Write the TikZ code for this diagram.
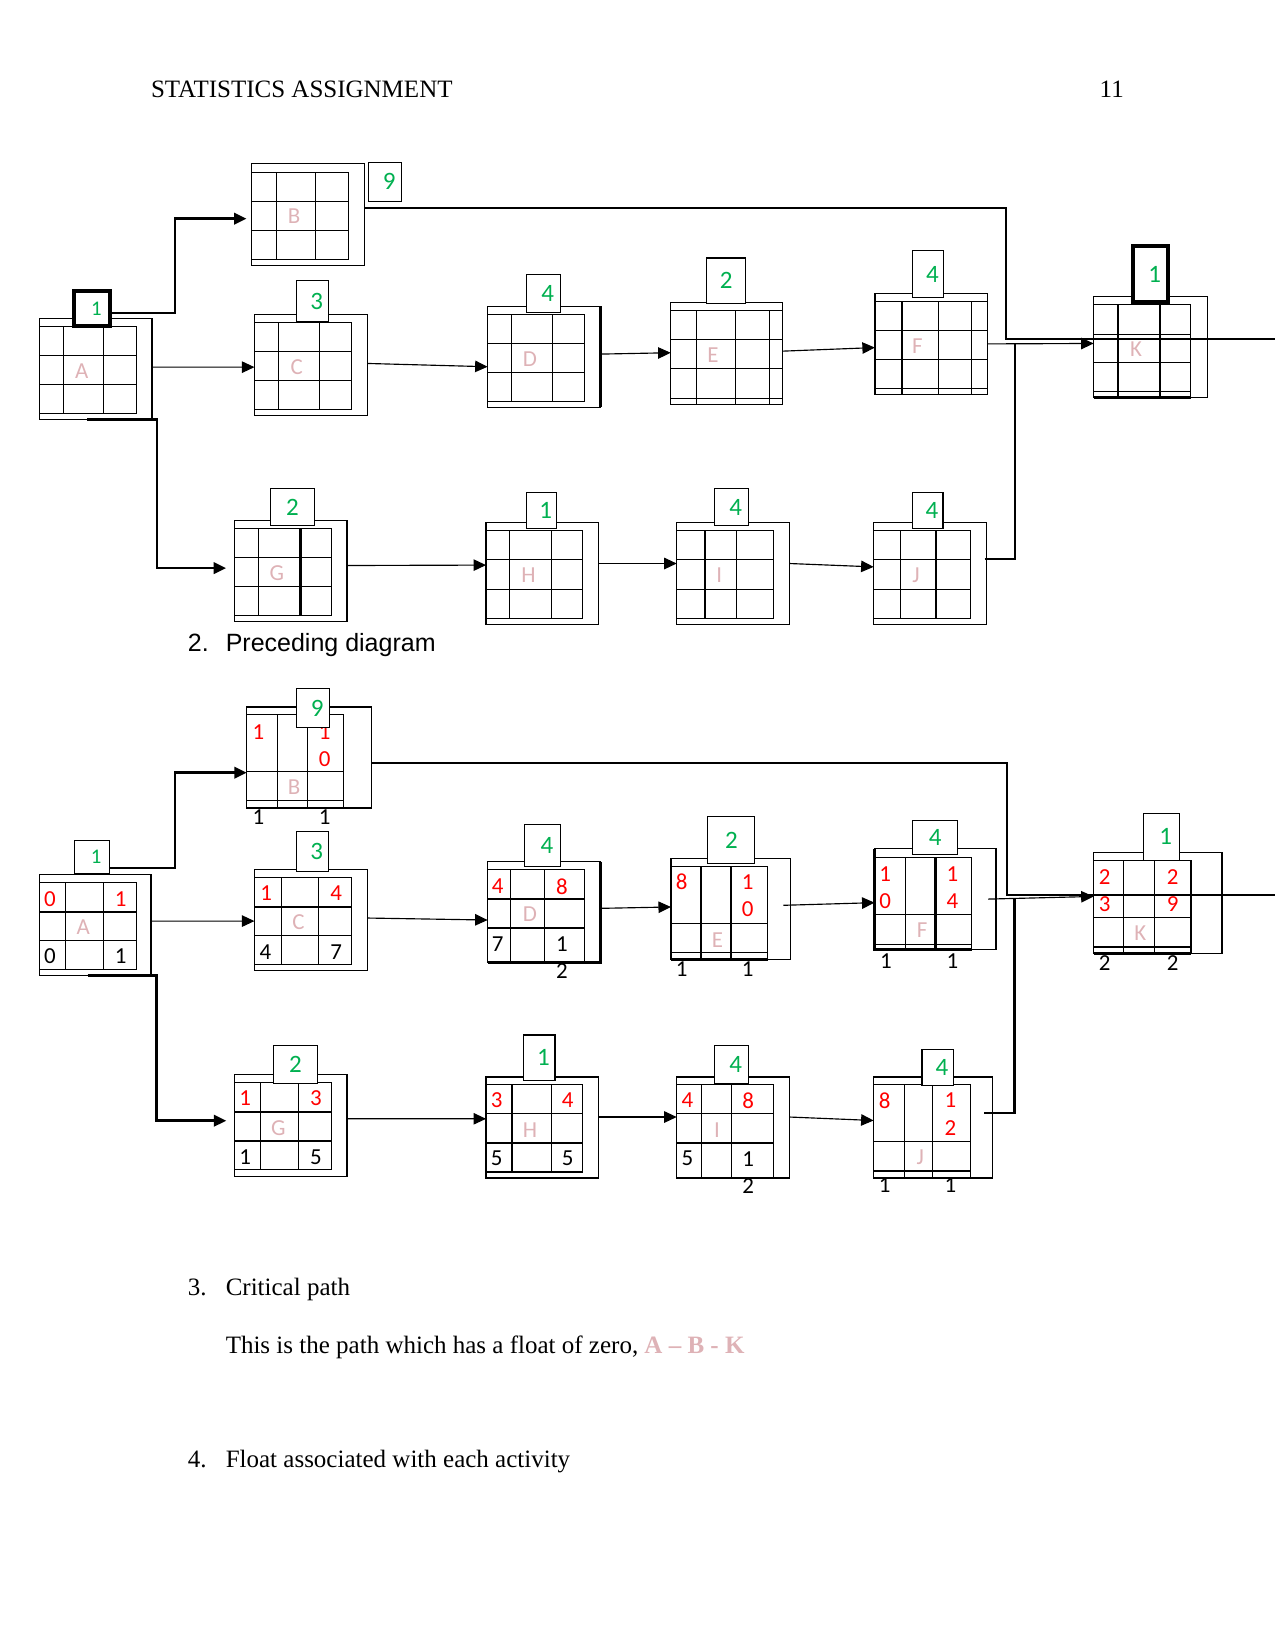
\documentclass[tikz,border=0pt]{standalone}
\usepackage{fontspec}
\setmainfont{Liberation Serif}
\newfontfamily\arialfont{Liberation Sans}
\newfontfamily\calfont{Carlito}
\usetikzlibrary{arrows.meta}
\definecolor{durgreen}{RGB}{0,176,80}
\definecolor{numred}{RGB}{255,0,0}
\definecolor{actpink}{RGB}{222,178,182}
\newlength{\px}\setlength{\px}{0.505pt}

% grid inside an activity box: box, grid width, top, bottom, row lines, column lines
\newcommand{\actgrid}[6]{%
  \begin{scope}[shift={(#1.north west)}]
    \draw (0,#3) rectangle (#2,#4);
    \foreach \ry in {#5} \draw (0,\ry) -- (#2,\ry);
    \foreach \cx in {#6} \draw (\cx,#3) -- (\cx,#4);
  \end{scope}}
% number in a cell: style, name, box, offset, text
\newcommand{\numat}[5]{\node[#1] (#2) at ([shift={(#4)}]#3.north west) {#5};}

\begin{document}
\begin{tikzpicture}[
    x=0.505pt, y=-0.505pt, line width=0.55pt,
    >={Triangle[length=6pt,width=5.5pt]},
    abox/.style={draw, rectangle, inner sep=0pt, outer sep=0pt, anchor=north west,
                 minimum width=107\px, minimum height=96\px},
    mdbox/.style={draw, rectangle, fill=white, inner sep=0pt, outer sep=0pt, text=durgreen,
                 font=\calfont\fontsize{12}{14}\selectfont},
    dbox/.style={mdbox, execute at begin node=\hspace{4pt}},
    cdbox/.style={dbox, line width=1.9pt},
    small/.style={font=\calfont\fontsize{10}{12}\selectfont},
    lbl/.style={text=actpink, inner sep=0pt, font=\calfont\fontsize{11}{13}\selectfont},
    esnum/.style={text=numred, inner sep=0pt, align=center, font=\calfont\fontsize{11}{13}\selectfont},
    lsnum/.style={esnum, text=black},
    heavy/.style={line width=1.3pt},
    flow/.style={->},
    crit/.style={->, line width=1.2pt},
    title/.style={anchor=base west, inner sep=0pt, font=\fontsize{12}{14}\selectfont},
  ]
  \useasboundingbox (0,0) rectangle (1212,1568);

  \node[title] (hdr) at (143,93) {STATISTICS ASSIGNMENT};
  \node[title, anchor=base east] (pg) at (1068.5,93) {11};

  % preceding diagram
  \node[abox] (A1) at (37.4,302.6) {};
  \node[abox, minimum height=97\px] (B1) at (239.2,155.3) {};
  \node[abox, minimum width=107.7\px] (C1) at (241.8,298.8) {};
  \node[abox] (D1) at (463.4,291.2) {};
  \node[abox, minimum width=106.2\px, minimum height=97\px] (E1) at (637.3,287.4) {};
  \node[abox] (F1) at (831.4,278.8) {};
  \node[abox, minimum width=107.8\px] (K1) at (1039.3,282) {};
  \node[abox] (G1) at (222.8,494.9) {};
  \node[abox, minimum height=97\px] (H1) at (461.9,496.5) {};
  \node[abox, minimum height=97\px] (I1) at (643.1,496.5) {};
  \node[abox, minimum height=97\px] (J1) at (830.2,496.5) {};

  \actgrid{A1}{92.5}{7.9}{90.3}{35.5,62.7}{22.8,60.8}
  \actgrid{B1}{91.9}{8.6}{91.3}{36.4,63.7}{23.8,60.8}
  \actgrid{C1}{92.5}{7.6}{90.3}{35.5,62.7}{22.8,61.8}
  \actgrid{D1}{92}{7.6}{90.3}{35.2,62.7}{22.7,61.8}
  \actgrid{E1}{106.2}{7.6}{97}{35.2,62.7,91.3}{24.8,61.8,94}
  \actgrid{F1}{107}{7.6}{96}{35.2,62.7,90.3}{25.8,60.4,91.6}
  \actgrid{K1}{92.3}{7.3}{96}{35.5,62.7,90.3}{23.1,63.1}
  \actgrid{G1}{92.4}{7.6}{90.3}{35.2,62.8}{23,62.7}
  \actgrid{H1}{92}{7.6}{91.3}{35.5,63.7}{22.5,62.5}
  \actgrid{I1}{92}{7.6}{91.3}{35.2,63.4}{26.9,57}
  \actgrid{J1}{92.2}{7.6}{91}{35.2,63.4}{25.7,59.3}

  \draw[heavy] (D1.north east) -- (D1.south east);
  \draw[heavy] (F1.north west) -- (F1.south west);
  \draw[heavy] ([shift={(62.7,7.6)}]G1.north west) -- ++(0,82.7);
  \draw[heavy] (H1.north west) -- (H1.south west);
  \draw[heavy] (K1.south west) -- ++(92.3,0);

  \foreach \b in {A,B,C,D,E,F,G,H,I,J,K}
    \node[lbl] (l\b1) at ([shift={(40.3,50)}]\b1.north west) {\b};

  \node[cdbox, small, text=durgreen, minimum width=34\px, minimum height=33.3\px] (dA1) at (87.6,293.3) {1};
  \node[dbox, minimum width=31.7\px, minimum height=37\px] (dB1) at (366,172.8) {9};
  \node[dbox, minimum width=30\px, minimum height=39.4\px] (dC1) at (297,286.1) {3};
  \node[dbox, minimum width=32.2\px, minimum height=36.1\px] (dD1) at (516.5,278.9) {4};
  \node[mdbox, minimum width=37\px, minimum height=42.9\px] (dE1) at (690.1,266.6) {2};
  \node[dbox, minimum width=29.5\px, minimum height=44.5\px] (dF1) at (882.2,260.4) {4};
  \node[cdbox, minimum width=32.7\px, minimum height=53.3\px] (dK1) at (1093.4,260.7) {1};
  \node[mdbox, minimum width=41.9\px, minimum height=35.2\px] (dG1) at (278,481.8) {2};
  \node[dbox, minimum width=28.4\px, minimum height=34.2\px] (dH1) at (514.6,485.1) {1};
  \node[dbox, minimum width=32.3\px, minimum height=35.2\px] (dI1) at (695.3,481.8) {4};
  \node[dbox, minimum width=28.9\px, minimum height=34.2\px] (dJ1) at (881.7,485.1) {4};

  \coordinate (out1) at (1212,322.5);
  \draw[crit, shorten >=2.5pt] ([shift={(0,4)}]dA1.east) -- ++(61.7,0) |- ([shift={(0,4)}]B1.west);
  \draw[flow] ([shift={(0,-1.7)}]A1.east) -- ([shift={(0,2.1)}]C1.west);
  \draw[flow] ([shift={(0,-1.4)}]C1.east) -- ([shift={(0,9.3)}]D1.west);
  \draw[flow] ([shift={(0,-2.7)}]D1.east) -- ([shift={(0,-0.7)}]E1.west);
  \draw[flow] ([shift={(0,-2.2)}]E1.east) -- ([shift={(0,3.5)}]F1.west);
  \draw[flow] (F1.east) -- ([shift={(0,-3.6)}]K1.west);
  \draw[line width=0.9pt] ([shift={(0,-5.8)}]B1.east) -- ++(609.7,0) |- (out1);
  \draw[crit, shorten >=4pt] ([shift={(-8.1,0)}]A1.south) -- ++(66.6,0) |- ([shift={(0,-3)}]G1.west);
  \draw[flow] ([shift={(0,-5.5)}]G1.east) -- ([shift={(0,-8)}]H1.west);
  \draw[flow] ([shift={(0,-9.5)}]H1.east) -- ([shift={(0,-9.5)}]I1.west);
  \draw[flow] ([shift={(0,-9.5)}]I1.east) -- ([shift={(0,-6.3)}]J1.west);
  \draw[line width=1.2pt] ([shift={(-1.6,-13.9)}]J1.east) -- ++(28.8,0) -- ++(0,-204.8);

  \node[title, font=\arialfont\fontsize{12}{14}\selectfont] (n2) at (178,619) {2.};
  \node[title, font=\arialfont\fontsize{12}{14}\selectfont] (s2) at (214,619) {Preceding diagram};

  % network with times
  \node[abox, minimum width=106.1\px] (A2) at (37.4,831.1) {};
  \node[abox, minimum width=118.2\px] (B2) at (234.5,671.8) {};
  \node[abox, minimum width=107.4\px] (C2) at (241.8,826.4) {};
  \node[abox] (D2) at (463.4,818.8) {};
  \node[abox, minimum width=113.7\px] (E2) at (637.6,815.9) {};
  \node[abox, minimum width=115.4\px] (F2) at (831.1,806.4) {};
  \node[abox, minimum width=122\px] (K2) at (1039.3,810.2) {};
  \node[abox, minimum height=97\px] (G2) at (222.8,1021.2) {};
  \node[abox] (H2) at (461.9,1023.5) {};
  \node[abox] (I2) at (643.1,1023.5) {};
  \node[abox, minimum width=113\px] (J2) at (830.2,1023.5) {};

  \actgrid{A2}{92.6}{7.6}{90.3}{35.5,63}{25,60.8}
  \actgrid{B2}{91.9}{7.2}{96}{61.1,88.7}{29.1,58}
  \actgrid{C2}{92.2}{7.6}{90.3}{35.5,63}{26,61.1}
  \actgrid{D2}{92}{7.6}{96}{35.5,63.1}{22.1,54.3}
  \actgrid{E2}{92}{7.3}{96}{61.8,89.4}{28.5,57}
  \actgrid{F2}{92.3}{8.6}{96}{62.7,91}{29.5,57.7}
  \actgrid{K2}{92.5}{7.6}{96}{61.8,89.7}{28.5,58}
  \actgrid{G2}{92.4}{7.6}{90.3}{35.5,63.1}{24.7,61.1}
  \actgrid{H2}{92}{7.3}{90.3}{34.9,62.7}{24.7,62.2}
  \actgrid{I2}{92}{7.3}{96}{34.9,62.7}{23.6,51.7}
  \actgrid{J2}{92.2}{7.2}{95.6}{61.1,89.3}{29.4,56}

  \draw[heavy] (D2.north east) -- (D2.south east) -- (D2.south west);
  \draw[heavy] (E2.south west) -- ++(92,0);
  \draw[heavy] (F2.north west) -- (F2.south west) -- ++(92.3,0);
  \draw[heavy] ([shift={(57.7,8.6)}]F2.north west) -- ++(0,87.4);
  \draw[heavy] (I2.south west) -- ++(92,0);
  \draw[heavy] (J2.south west) -- ++(92.2,0);
  \draw[heavy] (K2.south west) -- ++(92.5,0);

  \foreach \b/\lx/\ly in {A/41.8/50.4, B/45/76, C/41.8/49.7, D/40.1/50, E/44.1/77.6, F/45.1/77.6,
                          G/41.8/50.4, H/41.8/50.7, I/38.2/50.7, J/44.4/76, K/44.4/76.4}
    \node[lbl] (l\b2) at ([shift={(\lx,\ly)}]\b2.north west) {\b};

  \numat{esnum}{A2es}{A2}{10.1,23.4}{0}  \numat{esnum}{A2ef}{A2}{77.3,23.4}{1}
  \numat{lsnum}{A2ls}{A2}{10.1,77.6}{0}  \numat{lsnum}{A2lf}{A2}{77.3,77.6}{1}
  \numat{esnum}{B2es}{B2}{11.1,24.4}{1}  \numat{esnum}{B2ef}{B2}{74.1,36.8}{1\\0}
  \numat{lsnum}{B2ls}{B2}{11.1,104.6}{1} \numat{lsnum}{B2lf}{B2}{74.1,104.6}{1}
  \numat{esnum}{C2es}{C2}{11.1,22.8}{1}  \numat{esnum}{C2ef}{C2}{77.6,22.8}{4}
  \numat{lsnum}{C2ls}{C2}{10.5,78.3}{4}  \numat{lsnum}{C2lf}{C2}{77.6,78.3}{7}
  \numat{esnum}{D2es}{D2}{9.5,23.5}{4}   \numat{esnum}{D2ef}{D2}{70.6,23.5}{8}
  \numat{lsnum}{D2ls}{D2}{9.5,78}{7}     \numat{lsnum}{D2lf}{D2}{70.6,91.4}{1\\2}
  \numat{esnum}{E2es}{E2}{10.2,22.2}{8}  \numat{esnum}{E2ef}{E2}{73,35.4}{1\\0}
  \numat{lsnum}{E2ls}{E2}{10.2,104.6}{1} \numat{lsnum}{E2lf}{E2}{73,104.6}{1}
  \numat{esnum}{F2es}{F2}{10.2,36.8}{1\\0} \numat{esnum}{F2ef}{F2}{74,36.8}{1\\4}
  \numat{lsnum}{F2ls}{F2}{10.9,106.8}{1} \numat{lsnum}{F2lf}{F2}{74,106.8}{1}
  \numat{esnum}{K2es}{K2}{10.5,36.1}{2\\3} \numat{esnum}{K2ef}{K2}{75.1,36.1}{2\\9}
  \numat{lsnum}{K2ls}{K2}{10.5,104.9}{2} \numat{lsnum}{K2lf}{K2}{75.1,104.9}{2}
  \numat{esnum}{G2es}{G2}{10.2,22.8}{1}  \numat{esnum}{G2ef}{G2}{77.5,22.8}{3}
  \numat{lsnum}{G2ls}{G2}{10.2,78.3}{1}  \numat{lsnum}{G2lf}{G2}{77.5,78.3}{5}
  \numat{esnum}{H2es}{H2}{10.2,22.2}{3}  \numat{esnum}{H2ef}{H2}{77.5,22.2}{4}
  \numat{lsnum}{H2ls}{H2}{10.2,77.6}{5}  \numat{lsnum}{H2lf}{H2}{77.5,77.6}{5}
  \numat{esnum}{I2es}{I2}{10.2,22.2}{4}  \numat{esnum}{I2ef}{I2}{68,22.2}{8}
  \numat{lsnum}{I2ls}{I2}{10.2,77.6}{5}  \numat{lsnum}{I2lf}{I2}{68,91.1}{1\\2}
  \numat{esnum}{J2es}{J2}{10.5,22.2}{8}  \numat{esnum}{J2ef}{J2}{72.9,35.2}{1\\2}
  \numat{lsnum}{J2ls}{J2}{10.5,103}{1}   \numat{lsnum}{J2lf}{J2}{72.9,103}{1}

  \node[dbox, small, text=durgreen, minimum width=33.3\px, minimum height=31.4\px] (dA2) at (87.3,814.5) {1};
  \node[dbox, minimum width=30.7\px, minimum height=37.1\px] (dB2) at (297.4,672.9) {9};
  \node[dbox, minimum width=30.1\px, minimum height=37.8\px] (dC2) at (297,809.1) {3};
  \node[dbox, minimum width=34.6\px, minimum height=39.6\px] (dD2) at (515.7,803.4) {4};
  \node[mdbox, minimum width=44.8\px, minimum height=44.4\px] (dE2) at (695,798.5) {2};
  \node[mdbox, minimum width=42.5\px, minimum height=32\px] (dF2) at (888.7,796.1) {4};
  \node[dbox, minimum width=34.2\px, minimum height=44.4\px] (dK2) at (1103.9,795.3) {1};
  \node[mdbox, minimum width=41.8\px, minimum height=36.5\px] (dG2) at (280.8,1011.6) {2};
  \node[dbox, minimum width=29.9\px, minimum height=43.2\px] (dH2) at (512.5,1005.1) {1};
  \node[dbox, minimum width=32.4\px, minimum height=36.4\px] (dI2) at (695.3,1011.6) {4};
  \node[dbox, minimum width=30.1\px, minimum height=33.9\px] (dJ2) at (891.2,1014.5) {4};

  \coordinate (out2) at (1212,850.8);
  \draw[crit] ([shift={(0,10.3)}]dA2.east) -- ++(62.4,0) |- ([shift={(0,14.5)}]B2.west);
  \draw[flow] ([shift={(0,-3.8)}]A2.east) -- ([shift={(0,0.9)}]C2.west);
  \draw[flow] ([shift={(0,-2)}]C2.east) -- ([shift={(0,7.5)}]D2.west);
  \draw[flow] ([shift={(0,-3.6)}]D2.east) -- ([shift={(0,-2)}]E2.west);
  \draw[flow] ([shift={(-6.8,-3.6)}]E2.east) -- ([shift={(0,3.4)}]F2.west);
  \draw[flow] ([shift={(-7.4,0)}]F2.east) -- ([shift={(0,-6.3)}]K2.west);
  \draw[line width=0.9pt] ([shift={(0,5.6)}]B2.east) -- ++(603.9,0) |- (out2);
  \draw[crit, shorten >=3.9pt] ([shift={(-7.2,0)}]A2.south) -- ++(65.7,0) |- ([shift={(0,-4.7)}]G2.west);
  \draw[flow] ([shift={(0,-6.6)}]G2.east) -- ([shift={(0,-8.3)}]H2.west);
  \draw[flow] ([shift={(0,-10)}]H2.east) -- ([shift={(0,-10)}]I2.west);
  \draw[flow] ([shift={(0,-10)}]I2.east) -- ([shift={(0,-6.7)}]J2.west);
  \draw[line width=1.2pt] ([shift={(-7.8,-13.6)}]J2.east) -- ++(28.8,0) -- ++(0,-203.4);

  \node[title] (n3) at (178,1231) {3.};
  \node[title] (s3) at (214,1231) {Critical path};
  \node[title] (cp) at (214,1286) {This is the path which has a float of zero, \textcolor{actpink}{\textbf{A – B - K}}};
  \node[title] (n4) at (178,1395) {4.};
  \node[title] (s4) at (214,1395) {Float associated with each activity};
\end{tikzpicture}
\end{document}
